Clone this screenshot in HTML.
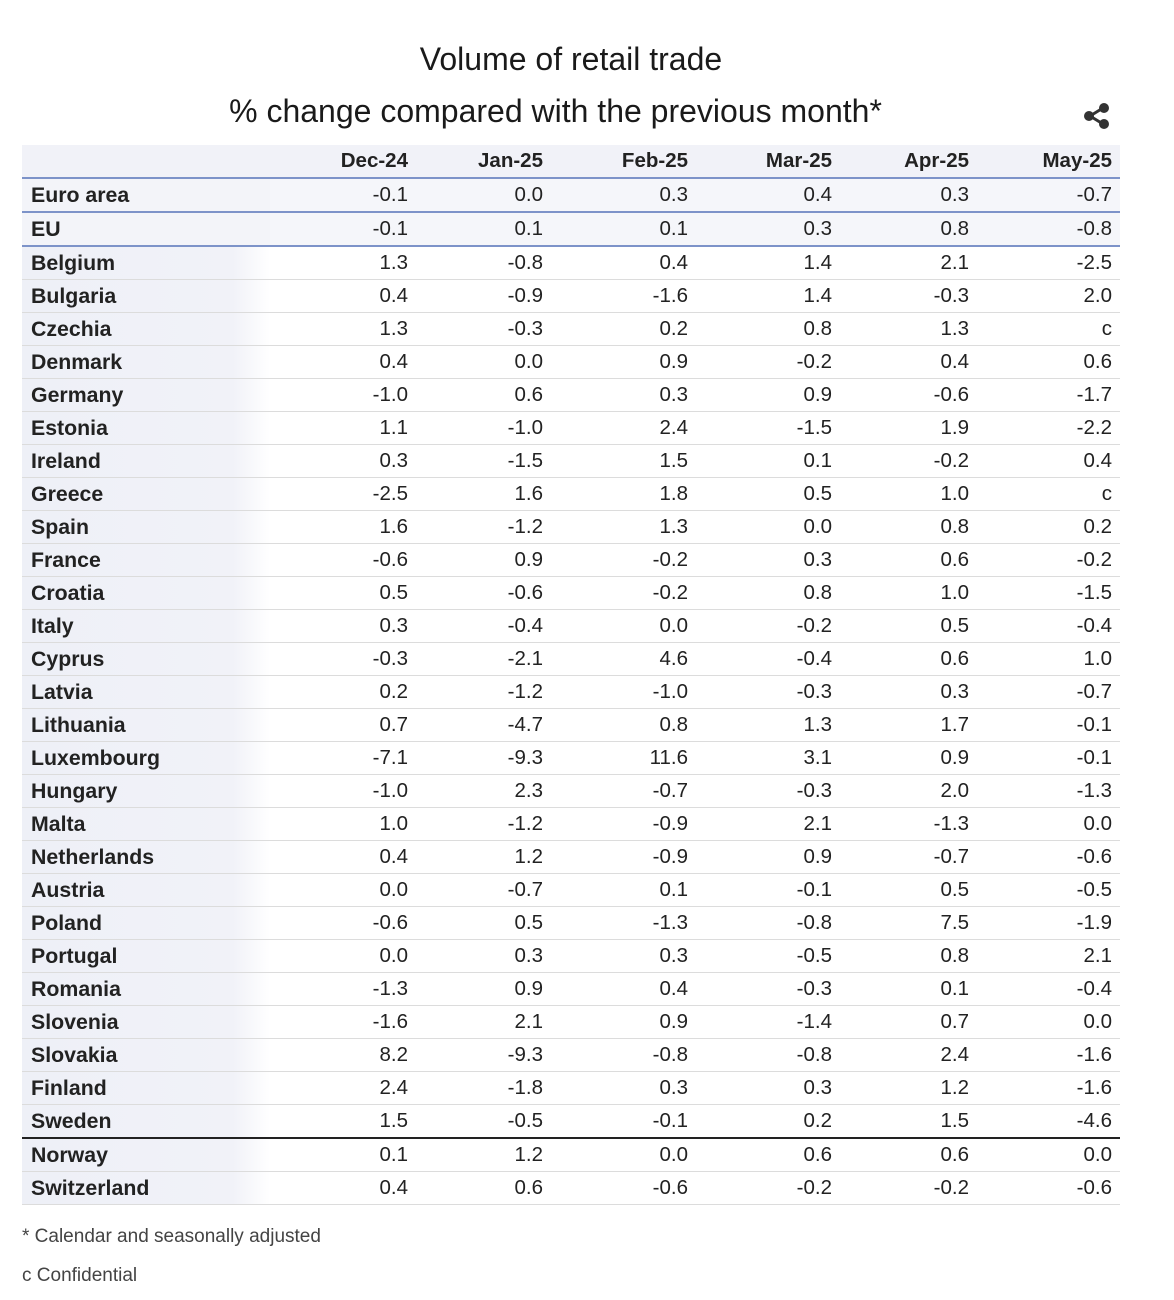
<!DOCTYPE html>
<html><head><meta charset="utf-8"><style>
body{margin:0;background:#fff;font-family:"Liberation Sans",Arial,sans-serif;color:#222;width:1174px;height:1300px;position:relative;overflow:hidden}
.t1{position:absolute;top:41px;left:0;width:1142px;text-align:center;font-size:32px;color:#1a1a1a}
.t2{position:absolute;top:93px;left:0;width:1111px;text-align:center;font-size:32px;color:#1a1a1a}
table{position:absolute;left:22px;top:145px;border-collapse:collapse;table-layout:fixed;width:1098px;font-size:20.5px}
td,th{height:32px;padding:0 8px 0 0;text-align:right;border-bottom:1px solid #dcdcdc;white-space:nowrap;line-height:32px}
th{font-weight:bold;height:32px;background:#f1f2f8;border-bottom:2px solid #7d93c9}
td:first-child,th:first-child{text-align:left;padding-left:9px;font-weight:bold;font-size:21.3px;background:linear-gradient(90deg,#eef0f7 0,#f1f2f8 85%,#fff 100%)}
th:first-child{background:#f1f2f8}
tr.b td{border-bottom:2px solid #7d93c9;background:#f5f6fa}
tr.b td:first-child{background:#f3f4f9}
tr.k td{border-bottom:2px solid #222}
.n{position:absolute;left:22px;font-size:19px;color:#444}
</style></head><body>
<div class="t1">Volume of retail trade</div>
<div class="t2">% change compared with the previous month*</div>
<svg style="position:absolute;left:1082px;top:101px" width="30" height="30" viewBox="0 0 30 30"><line x1="21" y1="7" x2="8" y2="15" stroke="#333" stroke-width="3"/><line x1="8" y1="15" x2="21" y2="23" stroke="#333" stroke-width="3"/><circle cx="22" cy="7" r="5" fill="#333"/><circle cx="7" cy="15" r="5" fill="#333"/><circle cx="22" cy="23" r="5" fill="#333"/></svg>
<table>
<colgroup><col style="width:248px"><col style="width:146px"><col style="width:135px"><col style="width:145px"><col style="width:144px"><col style="width:137px"><col style="width:143px"></colgroup>
<tr><th></th><th>Dec-24</th><th>Jan-25</th><th>Feb-25</th><th>Mar-25</th><th>Apr-25</th><th>May-25</th></tr>
<tr class="b"><td>Euro area</td><td>-0.1</td><td>0.0</td><td>0.3</td><td>0.4</td><td>0.3</td><td>-0.7</td></tr>
<tr class="b"><td>EU</td><td>-0.1</td><td>0.1</td><td>0.1</td><td>0.3</td><td>0.8</td><td>-0.8</td></tr>
<tr><td>Belgium</td><td>1.3</td><td>-0.8</td><td>0.4</td><td>1.4</td><td>2.1</td><td>-2.5</td></tr>
<tr><td>Bulgaria</td><td>0.4</td><td>-0.9</td><td>-1.6</td><td>1.4</td><td>-0.3</td><td>2.0</td></tr>
<tr><td>Czechia</td><td>1.3</td><td>-0.3</td><td>0.2</td><td>0.8</td><td>1.3</td><td>c</td></tr>
<tr><td>Denmark</td><td>0.4</td><td>0.0</td><td>0.9</td><td>-0.2</td><td>0.4</td><td>0.6</td></tr>
<tr><td>Germany</td><td>-1.0</td><td>0.6</td><td>0.3</td><td>0.9</td><td>-0.6</td><td>-1.7</td></tr>
<tr><td>Estonia</td><td>1.1</td><td>-1.0</td><td>2.4</td><td>-1.5</td><td>1.9</td><td>-2.2</td></tr>
<tr><td>Ireland</td><td>0.3</td><td>-1.5</td><td>1.5</td><td>0.1</td><td>-0.2</td><td>0.4</td></tr>
<tr><td>Greece</td><td>-2.5</td><td>1.6</td><td>1.8</td><td>0.5</td><td>1.0</td><td>c</td></tr>
<tr><td>Spain</td><td>1.6</td><td>-1.2</td><td>1.3</td><td>0.0</td><td>0.8</td><td>0.2</td></tr>
<tr><td>France</td><td>-0.6</td><td>0.9</td><td>-0.2</td><td>0.3</td><td>0.6</td><td>-0.2</td></tr>
<tr><td>Croatia</td><td>0.5</td><td>-0.6</td><td>-0.2</td><td>0.8</td><td>1.0</td><td>-1.5</td></tr>
<tr><td>Italy</td><td>0.3</td><td>-0.4</td><td>0.0</td><td>-0.2</td><td>0.5</td><td>-0.4</td></tr>
<tr><td>Cyprus</td><td>-0.3</td><td>-2.1</td><td>4.6</td><td>-0.4</td><td>0.6</td><td>1.0</td></tr>
<tr><td>Latvia</td><td>0.2</td><td>-1.2</td><td>-1.0</td><td>-0.3</td><td>0.3</td><td>-0.7</td></tr>
<tr><td>Lithuania</td><td>0.7</td><td>-4.7</td><td>0.8</td><td>1.3</td><td>1.7</td><td>-0.1</td></tr>
<tr><td>Luxembourg</td><td>-7.1</td><td>-9.3</td><td>11.6</td><td>3.1</td><td>0.9</td><td>-0.1</td></tr>
<tr><td>Hungary</td><td>-1.0</td><td>2.3</td><td>-0.7</td><td>-0.3</td><td>2.0</td><td>-1.3</td></tr>
<tr><td>Malta</td><td>1.0</td><td>-1.2</td><td>-0.9</td><td>2.1</td><td>-1.3</td><td>0.0</td></tr>
<tr><td>Netherlands</td><td>0.4</td><td>1.2</td><td>-0.9</td><td>0.9</td><td>-0.7</td><td>-0.6</td></tr>
<tr><td>Austria</td><td>0.0</td><td>-0.7</td><td>0.1</td><td>-0.1</td><td>0.5</td><td>-0.5</td></tr>
<tr><td>Poland</td><td>-0.6</td><td>0.5</td><td>-1.3</td><td>-0.8</td><td>7.5</td><td>-1.9</td></tr>
<tr><td>Portugal</td><td>0.0</td><td>0.3</td><td>0.3</td><td>-0.5</td><td>0.8</td><td>2.1</td></tr>
<tr><td>Romania</td><td>-1.3</td><td>0.9</td><td>0.4</td><td>-0.3</td><td>0.1</td><td>-0.4</td></tr>
<tr><td>Slovenia</td><td>-1.6</td><td>2.1</td><td>0.9</td><td>-1.4</td><td>0.7</td><td>0.0</td></tr>
<tr><td>Slovakia</td><td>8.2</td><td>-9.3</td><td>-0.8</td><td>-0.8</td><td>2.4</td><td>-1.6</td></tr>
<tr><td>Finland</td><td>2.4</td><td>-1.8</td><td>0.3</td><td>0.3</td><td>1.2</td><td>-1.6</td></tr>
<tr class="k"><td>Sweden</td><td>1.5</td><td>-0.5</td><td>-0.1</td><td>0.2</td><td>1.5</td><td>-4.6</td></tr>
<tr><td>Norway</td><td>0.1</td><td>1.2</td><td>0.0</td><td>0.6</td><td>0.6</td><td>0.0</td></tr>
<tr><td>Switzerland</td><td>0.4</td><td>0.6</td><td>-0.6</td><td>-0.2</td><td>-0.2</td><td>-0.6</td></tr>
</table>
<div class="n" style="top:1226px">* Calendar and seasonally adjusted</div>
<div class="n" style="top:1265px">c Confidential</div>
</body></html>
